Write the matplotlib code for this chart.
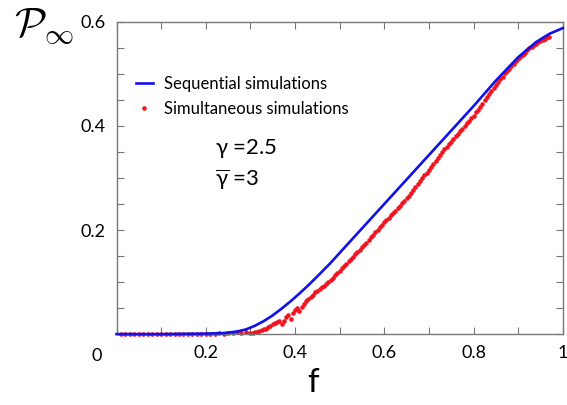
import matplotlib
matplotlib.use("Agg")
import matplotlib.pyplot as plt

plt.rcParams['font.family'] = ['Lato', 'DejaVu Sans']
plt.rcParams['mathtext.fontset'] = 'custom'
plt.rcParams['mathtext.rm'] = 'Lato'
plt.rcParams['mathtext.it'] = 'Lato'

# sequential simulations (line)
seq_f = [0.0, 0.1, 0.2, 0.24, 0.27, 0.29, 0.31, 0.33, 0.35, 0.37, 0.39, 0.41, 0.43,
         0.45, 0.48, 0.5, 0.55, 0.6, 0.65, 0.7, 0.75, 0.8, 0.85, 0.9, 0.94, 0.97, 1.0]
seq_p = [0.0, 0.0, 0.001, 0.002, 0.005, 0.009, 0.016, 0.025, 0.036, 0.049, 0.063, 0.078, 0.094,
         0.111, 0.137, 0.156, 0.203, 0.250, 0.297, 0.344, 0.391, 0.438, 0.487, 0.532, 0.561, 0.577, 0.588]

# simultaneous simulations (dots)
sim_f = [0.01, 0.02, 0.03, 0.04, 0.05, 0.06, 0.07, 0.08, 0.09, 0.10,
         0.11, 0.12, 0.13, 0.14, 0.15, 0.16, 0.17, 0.18, 0.19, 0.20,
         0.21, 0.22, 0.23, 0.24, 0.25, 0.26, 0.27, 0.28, 0.29, 0.30,
         0.31, 0.32, 0.33, 0.34, 0.35, 0.36, 0.37, 0.38, 0.39, 0.40,
         0.41, 0.42, 0.43, 0.44, 0.45, 0.46, 0.47, 0.48, 0.49, 0.50,
         0.51, 0.52, 0.53, 0.54, 0.55, 0.56, 0.57, 0.58, 0.59, 0.60,
         0.61, 0.62, 0.63, 0.64, 0.65, 0.66, 0.67, 0.68, 0.69, 0.70,
         0.71, 0.72, 0.73, 0.74, 0.75, 0.76, 0.77, 0.78, 0.79, 0.80,
         0.81, 0.82, 0.83, 0.84, 0.85, 0.86, 0.87, 0.88, 0.89, 0.90,
         0.91, 0.92, 0.93, 0.94, 0.95, 0.96, 0.97]
sim_p = [0.001, 0.000, 0.001, 0.000, 0.001, 0.000, 0.001, 0.001, 0.000, 0.001,
         0.000, 0.001, 0.001, 0.000, 0.001, 0.001, 0.000, 0.001, 0.001, 0.001,
         0.001, 0.000, 0.002, 0.001, 0.003, 0.002, 0.004, 0.002, 0.004, 0.003,
         0.004, 0.006, 0.009, 0.013, 0.019, 0.024, 0.020, 0.033, 0.030, 0.047,
         0.044, 0.058, 0.068, 0.076, 0.083, 0.090, 0.097, 0.104, 0.113, 0.122,
         0.131, 0.140, 0.149, 0.158, 0.167, 0.176, 0.186, 0.196, 0.206, 0.215,
         0.224, 0.233, 0.242, 0.251, 0.261, 0.272, 0.283, 0.294, 0.305, 0.316,
         0.327, 0.338, 0.349, 0.360, 0.370, 0.380, 0.390, 0.400, 0.410, 0.420,
         0.431, 0.443, 0.455, 0.467, 0.479, 0.490, 0.501, 0.510, 0.519, 0.528,
         0.537, 0.545, 0.552, 0.558, 0.563, 0.567, 0.571]
# extra dots in between (the run sampled f more finely in the rising part)
sim_f2 = [0.305, 0.315, 0.325, 0.335, 0.345, 0.355, 0.365, 0.375, 0.385, 0.395,
          0.405, 0.415, 0.425, 0.435, 0.445, 0.455, 0.465, 0.475, 0.485, 0.495,
          0.505, 0.515, 0.525, 0.535, 0.545, 0.555, 0.565, 0.575, 0.585, 0.595,
          0.605, 0.615, 0.625, 0.635, 0.645, 0.655, 0.665, 0.675, 0.685, 0.695,
          0.705, 0.715, 0.725, 0.735, 0.745, 0.755, 0.765, 0.775, 0.785, 0.795,
          0.805, 0.815, 0.825, 0.835, 0.845, 0.855, 0.865, 0.875, 0.885, 0.895,
          0.905, 0.915, 0.925, 0.935, 0.945, 0.955, 0.965]
sim_p2 = [0.003, 0.005, 0.008, 0.010, 0.016, 0.022, 0.026, 0.025, 0.036, 0.041,
          0.050, 0.052, 0.063, 0.071, 0.080, 0.086, 0.093, 0.101, 0.108, 0.117,
          0.127, 0.135, 0.145, 0.153, 0.162, 0.171, 0.181, 0.191, 0.201, 0.210,
          0.219, 0.229, 0.237, 0.246, 0.256, 0.266, 0.277, 0.289, 0.300, 0.310,
          0.321, 0.332, 0.344, 0.355, 0.365, 0.375, 0.385, 0.395, 0.405, 0.415,
          0.426, 0.437, 0.449, 0.461, 0.473, 0.484, 0.495, 0.506, 0.515, 0.524,
          0.533, 0.541, 0.549, 0.555, 0.561, 0.566, 0.570]

fig = plt.figure(figsize=(5.67, 4.05), dpi=100)
ax = fig.add_axes([0.2055, 0.175, 0.787, 0.771])

ax.plot(sim_f + sim_f2, sim_p + sim_p2, 'o', color='#f01420', markersize=3.3,
        markeredgewidth=0, label='Simultaneous simulations', zorder=2, clip_on=False)
ax.plot(seq_f, seq_p, color='#1010e8', linewidth=1.9, label='Sequential simulations',
        zorder=3, clip_on=False)

ax.set_xlim(0, 1)
ax.set_ylim(0, 0.6)

xt = [0.0, 0.1, 0.2, 0.3, 0.4, 0.5, 0.6, 0.7, 0.8, 0.9, 1.0]
ax.set_xticks(xt)
ax.set_xticklabels(['', '', '0.2', '', '0.4', '', '0.6', '', '0.8', '', '1'])
yt = [0.0, 0.05, 0.1, 0.15, 0.2, 0.25, 0.3, 0.35, 0.4, 0.45, 0.5, 0.55, 0.6]
ax.set_yticks(yt)
ax.set_yticklabels(['', '', '', '', '0.2', '', '', '', '0.4', '', '', '', '0.6'])
ax.tick_params(direction='in', length=5, width=0.8, color='#777777', labelsize=13,
               top=True, right=True, pad=8)
ax.tick_params(axis='y', pad=8)
for s in ax.spines.values():
    s.set_color('#777777')
    s.set_linewidth(1.0)

ax.text(-0.045, -0.07, '0', transform=ax.transAxes, fontsize=13, ha='center', va='center')

fig.text(0.552, 0.055, 'f', fontsize=24, ha='center', va='center')
fig.text(0.025, 0.935, r'$\mathcal{P}_\infty$', fontsize=30, ha='left', va='center',
         math_fontfamily='cm')

handles, labels = ax.get_legend_handles_labels()
ax.legend(handles[::-1], labels[::-1], loc='upper left', bbox_to_anchor=(0.01, 0.875),
          frameon=False, fontsize=12, handlelength=1.0, handletextpad=0.7,
          labelspacing=0.55, markerscale=1.0)

ax.text(0.22, 0.595, r'$\gamma$ =2.5', transform=ax.transAxes, fontsize=16, ha='left', va='center')
ax.text(0.22, 0.495, r'$\overline{\gamma}$ =3', transform=ax.transAxes, fontsize=16, ha='left', va='center')

fig.savefig('out.png', dpi=100)
